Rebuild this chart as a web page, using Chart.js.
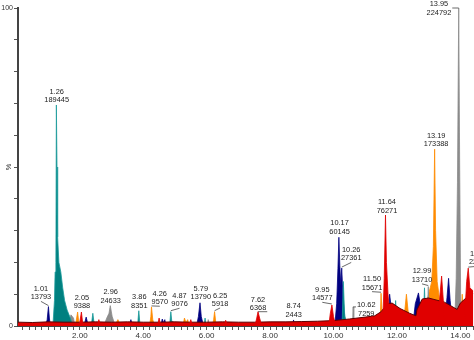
<!DOCTYPE html>
<html><head><meta charset="utf-8">
<script src="https://cdn.jsdelivr.net/npm/chart.js@4/dist/chart.umd.min.js"></script>
<style>html,body{margin:0;padding:0;background:#fff;overflow:hidden}#wrap{width:474px;height:340px;position:relative}</style>
</head><body><div id="wrap"><canvas id="c"></canvas></div>
<script>
// ---- data (retention time in minutes, intensity in %) ----
const navyT = [0.92,0.97,1.01,1.04,1.07, 2.13,2.2,2.27, 3.56,3.61,3.66, 4.55,4.6,4.64,4.68,4.72, 5.68,5.74,5.79,5.83,5.9, 8.71,8.74,8.77, 10.04,10.1,10.14,10.17,10.2,10.23,10.26,10.3,10.35,10.42, 11.02,11.1,11.18, 11.72,11.77,11.83,11.9, 12.5,12.58,12.68,12.75,12.82, 13.5,13.58,13.63,13.68,13.76];
const navyY = [0,2,6.1,2.5,0, 0,2.8,0, 0,2,0, 0,2.2,1,2,0, 0,3,7.3,3,0, 0,1.9,0, 0,7,18,27.9,19,13,18.2,9,3,0, 0,2.8,0, 0,10,5,0, 0,7,10.4,6,0, 0,9,15,8,0];

const tealT = [1.15,1.2,1.22,1.245,1.26,1.28,1.3,1.34,1.4,1.46,1.52,1.6,1.7,1.78, 2.36,2.41,2.46, 3.82,3.86,3.9, 4.83,4.87,4.9,4.96,5.05,5.15, 5.92,5.95,5.98, 10.27,10.31,10.35,10.4, 11.92,11.96,12.0, 12.83,12.87,12.91, 13.71,13.75,13.79];
const tealY = [0,8,17,20,69.5,50,28,20,17,12,8,5,2.5,0, 0,4,0, 0,4.8,0, 0,4.5,1.5,1.2,0.8,0, 0,2.5,0, 0,14,4,0, 0,8,0, 0,12,0, 0,6,0];

const orangeT = [1.86,1.93,1.98, 3.1,3.2,3.3, 4.2,4.24,4.26,4.3,4.36, 5.25,5.3,5.35,5.4,5.45, 6.18,6.22,6.25,6.3, 10.75,10.8,10.85, 11.0,11.05,11.1, 11.45,11.48,11.5,11.54,11.58, 12.2,12.26,12.3,12.35,12.42, 12.88,13.0,13.1,13.15,13.19,13.22,13.27,13.35,13.4, 14.02,14.06,14.1];
const orangeY = [0,4.4,0, 0,2,0, 0,3,6,2,0, 0,2.5,1,2,0, 0,2,4.5,0, 0,2,0, 0,2,0, 0,4,10.3,3,0, 0,6,10,5,0, 5,10,14,25,55.6,30,14,8,0, 0,10,0];

const grayT = [1.65,1.72,1.8,1.85, 2.75,2.85,2.92,2.96,3.02,3.12, 6.02,6.05,6.08, 10.6,10.62,10.64, 12.95,12.99,13.03, 13.82,13.87,13.91,13.95,13.98,14.01,14.03];
const grayY = [0,3.5,2.5,0, 0,2.5,4,6.4,3,0, 0,2,0, 0,6,0, 0,12.4,0, 0,15,45,100,50,10,0];

const redPeakT = [1.98,2.05,2.1, 2.55,2.6,2.65, 4.45,4.5,4.55, 5.45,5.5,5.55, 6.55,6.6,6.65, 7.52,7.58,7.62,7.67,7.74, 9.85,9.9,9.95,10.0,10.07, 10.85,10.9,10.95, 11.18,11.22,11.26, 11.55,11.6,11.64,11.67,11.72,11.8, 13.3,13.36,13.41,13.45,13.52, 14.12,14.2,14.25,14.3,14.41];
const redPeakY = [0,4.4,0, 0,2,0, 0,2.5,0, 0,2,0, 0,1.8,0, 0,2.5,4.5,2.5,0, 0,4,6.6,3,0, 0,2.5,0, 0,3,0, 0,15,34.9,20,10,0, 0,10,15.7,10,0, 0,14,18.2,12,11];

const redBaseT = [0.05,0.5,1,1.5,2,2.5,3,3.5,4,4.5,5,5.5,6,6.5,7,7.5,8,8.5,9,9.5,10,10.5,11,11.3,11.5,11.7,11.85,12.1,12.4,12.6,12.63,12.8,13.0,13.5,13.9,14.0,14.2,14.41];
const redBaseY = [1.2,1.1,1.3,1.2,1.2,1.3,1.2,1.3,1.2,1.2,1.3,1.2,1.2,1.3,1.2,1.2,1.3,1.3,1.4,1.5,1.7,2.2,2.8,3.2,4.5,7,7.2,5.5,4,3.2,5,8.5,8.8,7.5,5.2,7.2,9,10.2];

// peak annotations: retention time and area
const labelTimes = [1.01,1.26,2.05,2.96,3.86,4.26,4.87,5.79,6.25,7.62,8.74,9.95,10.17,10.26,10.62,11.50,11.64,12.99,13.19,13.95,14.25];
const labelAreas = [13793,189445,9388,24633,8351,9570,9076,13790,5918,6368,2443,14577,60145,27361,7259,15671,76271,13710,173388,224792,22418];

const xLabelTicks = [2,4,6,8,10,12,14];
const yLabelTicks = [0,100];

// ---- presentation ----
// label placement [dx px, lift px] relative to the annotated apex
const labelPlace = [[-7.5,9.2],[0.3,5],[0.5,5.7],[0.4,4.7],[0.5,5],[8.3,4.7],[8.7,7.4],[0.8,5.4],[5.5,7.7],[0,3.4],[0.1,5],[-9.6,6.7],[0.7,5.6],[9.5,9.7],[13.1,-7],[-9,5.6],[1.5,4.3],[-6.3,6.7],[1.5,5],[-19.8,-4.7],[11,6]];

const toPts = (T,Y)=>T.map((t,i)=>({x:t,y:Y[i]}));
const mk = (label,T,Y,color,order,border,bw)=>({label,data:toPts(T,Y),backgroundColor:color,borderColor:border||color,borderWidth:bw===undefined?0.8:bw,fill:'origin',pointRadius:0,tension:0,order});

const datasets = [
  mk('navy',navyT,navyY,'#000080',6),
  mk('orange',orangeT,orangeY,'#ff8c00',5),
  mk('gray',grayT,grayY,'#8c8c8c',4),
  mk('teal',tealT,tealY,'#008080',3,'#1a9a9a'),
  mk('base',redBaseT,redBaseY,'#e00000',2,'#600000',1),
  mk('red',redPeakT,redPeakY,'#e00000',1)
];

function apexOf(chart,t){
  let m=0;
  chart.data.datasets.forEach(ds=>ds.data.forEach(p=>{ if(Math.abs(p.x-t)<0.006 && p.y>m) m=p.y; }));
  return m;
}

const labelPlugin = {
  id:'peakLabels',
  afterDatasetsDraw(chart){
    const {ctx, scales:{x,y}} = chart;
    ctx.save();
    ctx.font = '7.4px "Liberation Sans", Arial, sans-serif';
    ctx.fillStyle = '#222';
    ctx.strokeStyle = '#444';
    ctx.lineWidth = 0.8;
    ctx.textAlign = 'center';
    ctx.textBaseline = 'middle';
    const gap = 8.5;
    labelTimes.forEach((t,i)=>{
      const ax = x.getPixelForValue(t), ay = y.getPixelForValue(apexOf(chart,t));
      const [dx,lift] = labelPlace[i];
      const cx = ax+dx, yA = ay-lift;
      const l1 = t.toFixed(2), l2 = String(labelAreas[i]);
      ctx.fillText(l1,cx,yA-gap);
      ctx.fillText(l2,cx,yA);
      const w = Math.max(ctx.measureText(l1).width,ctx.measureText(l2).width);
      const top = yA-gap-3.5, bot = yA+3.5;
      ctx.beginPath();
      if (ay>=top && ay<=bot){
        const edge = ax<cx ? cx-w/2-1 : cx+w/2+1;
        ctx.moveTo(edge,ay); ctx.lineTo(ax,ay);
      } else if (Math.hypot(cx-ax,bot-ay)>3){
        ctx.moveTo(cx,bot+0.5); ctx.lineTo(ax,ay-1);
      }
      ctx.stroke();
    });
    // y axis unit
    ctx.translate(9,167);
    ctx.rotate(-Math.PI/2);
    ctx.fillStyle='#333';
    ctx.fillText('%',0,0);
    ctx.restore();
  }
};

new Chart(document.getElementById('c'),{
  type:'line',
  data:{datasets},
  options:{
    responsive:true,maintainAspectRatio:false,animation:false,
    layout:{padding:{top:8,left:0,right:0,bottom:0}},
    plugins:{legend:{display:false},tooltip:{enabled:false}},
    scales:{
      x:{type:'linear',min:0.05,max:14.41,
        afterFit(s){s.height=14;},
        border:{color:'#444',width:1},
        grid:{drawOnChartArea:false,drawTicks:true,tickLength:4,color:'#555'},
        ticks:{stepSize:0.2,includeBounds:false,autoSkip:false,maxRotation:0,padding:1,color:'#333',
          font:{family:'"Liberation Sans", Arial, sans-serif',size:8},
          callback:(v)=>{const k=xLabelTicks.find(a=>Math.abs(a-v)<1e-6);return k===undefined?'':k.toFixed(2);}}},
      y:{min:0,max:100,
        afterFit(s){s.width=18;},
        border:{color:'#444',width:2},
        grid:{drawOnChartArea:false,drawTicks:true,tickLength:4,color:'#555'},
        ticks:{stepSize:10,autoSkip:false,padding:1,color:'#333',
          font:{family:'"Liberation Sans", Arial, sans-serif',size:7},
          callback:(v)=>yLabelTicks.includes(v)?String(v):''}}
    }
  },
  plugins:[labelPlugin]
});
</script></body></html>
